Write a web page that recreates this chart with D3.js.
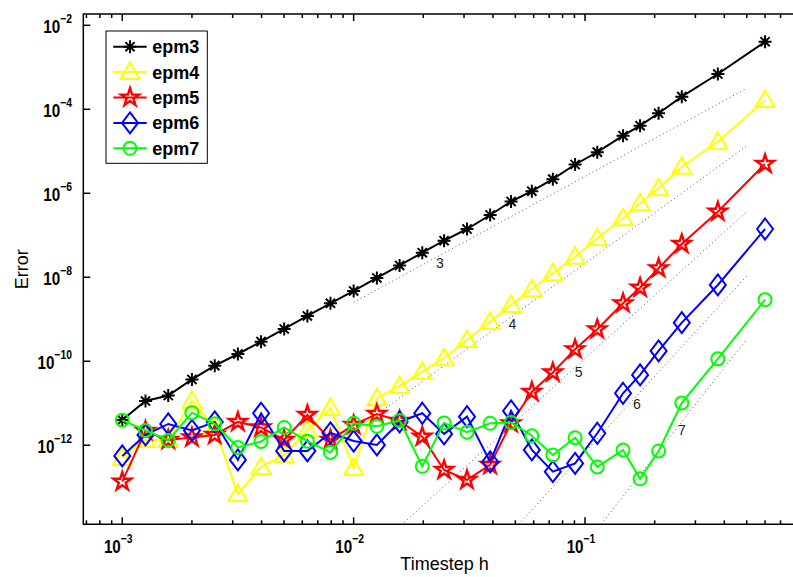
<!DOCTYPE html>
<html>
<head>
<script src="https://cdnjs.cloudflare.com/ajax/libs/d3/7.8.5/d3.min.js"></script>
<style>
  body { margin: 0; background: #fff; }
  text { font-family: "Liberation Sans", Arial, sans-serif; }
</style>
</head>
<body>
<script>
var width = 793, height = 577;

// timestep h (shared by every method)
var h = [0.001, 0.00126, 0.00158, 0.002, 0.00251, 0.00316, 0.00398, 0.00501, 0.00631, 0.00794,
         0.01, 0.0126, 0.0158, 0.0198, 0.0246, 0.0309, 0.0389, 0.0479, 0.0589, 0.0726,
         0.0906, 0.113, 0.146, 0.173, 0.208, 0.262, 0.375, 0.6];

var epm3 = [4.0e-12, 1.13e-11, 1.53e-11, 3.69e-11, 7.85e-11, 1.49e-10, 2.93e-10, 5.87e-10, 1.20e-9, 2.40e-9,
            4.72e-9, 9.62e-9, 1.91e-8, 3.85e-8, 7.43e-8, 1.41e-7, 3.04e-7, 6.38e-7, 1.12e-6, 2.17e-6,
            4.85e-6, 9.53e-6, 2.35e-5, 4.07e-5, 8.04e-5, 2.0e-4, 6.92e-4, 4.07e-3];
var epm4 = [5.0e-13, 1.34e-12, 1.34e-12, 1.13e-11, 2.58e-12, 6.9e-14, 3.04e-13, 5.87e-13, 2.31e-12, 7.73e-12,
            2.88e-13, 1.31e-11, 2.58e-11, 5.65e-11, 1.18e-10, 3.21e-10, 8.77e-10, 2.19e-9, 5.18e-9, 1.24e-8,
            3.09e-8, 8.49e-8, 2.54e-7, 5.78e-7, 1.32e-6, 4.30e-6, 1.69e-5, 1.66e-4];
var epm5 = [1.36e-13, 2.19e-12, 1.34e-12, 1.53e-12, 1.76e-12, 3.59e-12, 2.65e-12, 1.34e-12, 5.26e-12, 1.34e-12,
            3.04e-12, 5.56e-12, 3.79e-12, 1.60e-12, 2.58e-13, 1.49e-13, 3.40e-13, 3.34e-12, 1.86e-11, 5.41e-11,
            1.93e-10, 5.78e-10, 2.40e-9, 5.65e-9, 1.64e-8, 6.21e-8, 3.65e-7, 4.99e-6];
var epm6 = [5.56e-13, 1.76e-12, 3.21e-12, 2.25e-12, 3.59e-12, 4.47e-13, 5.78e-12, 7.31e-13, 7.31e-13, 1.96e-12,
            1.26e-12, 1.02e-12, 3.59e-12, 5.78e-12, 1.86e-12, 4.80e-12, 4.0e-13, 6.56e-12, 7.73e-13, 2.35e-13,
            3.69e-13, 1.93e-12, 1.73e-11, 4.72e-11, 1.76e-10, 8.30e-10, 6.56e-9, 1.41e-7];
var epm7 = [3.94e-12, 2.25e-12, 1.30e-12, 5.97e-12, 3.25e-12, 8.87e-13, 1.23e-12, 2.65e-12, 1.25e-12, 6.74e-13,
            3.34e-12, 2.83e-12, 3.89e-12, 3.16e-13, 3.40e-12, 2.05e-12, 3.34e-12, 3.49e-12, 1.68e-12, 5.87e-13,
            1.51e-12, 3.04e-13, 7.73e-13, 1.59e-13, 7.31e-13, 1.02e-11, 1.14e-10, 2.93e-9];

var names = ["epm3", "epm4", "epm5", "epm6", "epm7"];
var colors = ["#000000", "#ffff00", "#ff0000", "#0000ff", "#00ff00"];
var markers = ["asterisk", "triangle", "star", "diamond", "circle"];

// dotted order lines, from h = 0.01 to h = 0.5
var refOrder = [3, 4, 5, 6, 7];
var refH = [0.01, 0.5];
var refStart = [2.53e-9, 2.14e-12, 1.17e-15, 6.85e-19, 4.28e-22];
var refEnd = [3.16e-4, 1.34e-5, 3.65e-7, 1.07e-8, 3.34e-10];
var refLabelH = [0.0236, 0.0486, 0.0939, 0.1675, 0.262];

var xTicks = [1e-3, 1e-2, 1e-1];
var yTicks = [1e-2, 1e-4, 1e-6, 1e-8, 1e-10, 1e-12];

var series = [epm3, epm4, epm5, epm6, epm7].map(function(v, i) {
  return {name: names[i], color: colors[i], marker: markers[i],
          pts: v.map(function(e, j) { return [h[j], e]; })};
});

var pL = 83.3, pR = 805.8, pT = 14, pB = 524.3;
var x = d3.scaleLog().domain([6.785e-4, 0.9]).range([pL, pR]);
var y = d3.scaleLog().domain([1.86e-2, 1.31e-14]).range([pT, pB]);

var svg = d3.select("body").append("svg")
  .attr("width", width).attr("height", height);
svg.append("rect").attr("width", width).attr("height", height).attr("fill", "#fff");

svg.append("clipPath").attr("id", "plotclip")
  .append("rect").attr("x", pL).attr("y", pT)
  .attr("width", pR - pL).attr("height", pB - pT);

var markerPath = {
  asterisk: "M-6.5,0H6.5M0,-6.5V6.5M-4.6,-4.6L4.6,4.6M-4.6,4.6L4.6,-4.6",
  triangle: "M0,-9.5L9.5,7L-9.5,7Z",
  star: d3.symbol(d3.symbolStar, 100)(),
  diamond: "M0,-10.5L8,0L0,10.5L-8,0Z",
  circle: d3.symbol(d3.symbolCircle, Math.PI * 6.5 * 6.5)()
};

// reference slopes
var ref = svg.append("g").attr("clip-path", "url(#plotclip)");
refOrder.forEach(function(p, i) {
  ref.append("line")
    .attr("x1", x(refH[0])).attr("y1", y(refStart[i]))
    .attr("x2", x(refH[1])).attr("y2", y(refEnd[i]))
    .attr("stroke", "#555").attr("stroke-width", 1)
    .attr("stroke-dasharray", "1,3");
});
refOrder.forEach(function(p, i) {
  // value on the order line at the label position
  var t = Math.log(refLabelH[i] / refH[0]) / Math.log(refH[1] / refH[0]);
  var v = Math.exp(Math.log(refStart[i]) + t * (Math.log(refEnd[i]) - Math.log(refStart[i])));
  svg.append("text")
    .attr("x", x(refLabelH[i])).attr("y", y(v) + 13)
    .attr("text-anchor", "middle")
    .attr("font-size", "14px").attr("fill", "#222")
    .text(p);
});

var line = d3.line().x(function(d) { return x(d[0]); }).y(function(d) { return y(d[1]); });

var g = svg.selectAll("g.series").data(series).enter().append("g").attr("class", "series");
g.append("path")
  .attr("d", function(d) { return line(d.pts); })
  .attr("fill", "none")
  .attr("stroke", function(d) { return d.color; })
  .attr("stroke-width", 2);
g.each(function(s) {
  d3.select(this).selectAll("path.mk").data(s.pts).enter().append("path")
    .attr("class", "mk")
    .attr("d", markerPath[s.marker])
    .attr("transform", function(d) { return "translate(" + x(d[0]) + "," + y(d[1]) + ")"; })
    .attr("fill", "none")
    .attr("stroke", s.color)
    .attr("stroke-width", s.marker == "star" ? 2.4 : 2);
});

// axes box
var ax = svg.append("g").attr("stroke", "#000").attr("stroke-width", 1.5).attr("fill", "none");
ax.append("path").attr("d", "M" + pR + "," + pT + "H" + pL + "V" + pB + "H" + pR);

var minor = [];
xTicks.concat([1]).forEach(function(dec) {
  for (var m = 2; m <= 9; m++) {
    var v = dec / 10 * m;
    if (v > x.domain()[0] && v < x.domain()[1]) minor.push(v);
  }
});
minor.forEach(function(v) {
  ax.append("line").attr("x1", x(v)).attr("x2", x(v)).attr("y1", pB).attr("y2", pB - 4);
  ax.append("line").attr("x1", x(v)).attr("x2", x(v)).attr("y1", pT).attr("y2", pT + 4);
});
xTicks.forEach(function(v) {
  ax.append("line").attr("x1", x(v)).attr("x2", x(v)).attr("y1", pB).attr("y2", pB - 7);
  ax.append("line").attr("x1", x(v)).attr("x2", x(v)).attr("y1", pT).attr("y2", pT + 7);
});
yTicks.forEach(function(v) {
  ax.append("line").attr("x1", pL).attr("x2", pL + 7).attr("y1", y(v)).attr("y2", y(v));
});

function powLabel(sel, v) {
  var e = Math.round(Math.log10(v));
  sel.append("tspan").text("10");
  sel.append("tspan").attr("font-size", "13px").attr("dy", -10).text("\u2212" + Math.abs(e));
}

xTicks.forEach(function(v) {
  var t = svg.append("g").attr("transform", "translate(" + (x(v) - 4) + ",553) scale(0.8,1)")
    .append("text").attr("text-anchor", "middle")
    .attr("font-size", "19px").attr("font-weight", "bold");
  powLabel(t, v);
});
yTicks.forEach(function(v) {
  var t = svg.append("g").attr("transform", "translate(72," + (y(v) + 8) + ") scale(0.8,1)")
    .append("text").attr("text-anchor", "end")
    .attr("font-size", "19px").attr("font-weight", "bold");
  powLabel(t, v);
});

svg.append("text").attr("x", (pL + pR) / 2).attr("y", 570)
  .attr("text-anchor", "middle").attr("font-size", "18px")
  .text("Timestep h");
svg.append("text").attr("transform", "translate(28," + (pT + pB) / 2 + ") rotate(-90)")
  .attr("text-anchor", "middle").attr("font-size", "18px")
  .text("Error");

// legend
var lg = svg.append("g");
lg.append("rect").attr("x", 106).attr("y", 31).attr("width", 101.3).attr("height", 132.3)
  .attr("fill", "#fff").attr("stroke", "#000").attr("stroke-width", 1);
var row = lg.selectAll("g").data(series).enter().append("g")
  .attr("transform", function(d, i) { return "translate(0," + (46.7 + i * 25.4) + ")"; });
row.append("line").attr("x1", 113.3).attr("x2", 146.7)
  .attr("stroke", function(d) { return d.color; }).attr("stroke-width", 2);
row.append("path")
  .attr("d", function(d) { return markerPath[d.marker]; })
  .attr("transform", "translate(130,0)")
  .attr("fill", "none").attr("stroke", function(d) { return d.color; })
  .attr("stroke-width", function(d) { return d.marker == "star" ? 2.4 : 2; });
row.append("text").attr("x", 152.3).attr("y", 6.5)
  .attr("font-size", "18px").attr("font-weight", "bold")
  .text(function(d) { return d.name; });
</script>
</body>
</html>
